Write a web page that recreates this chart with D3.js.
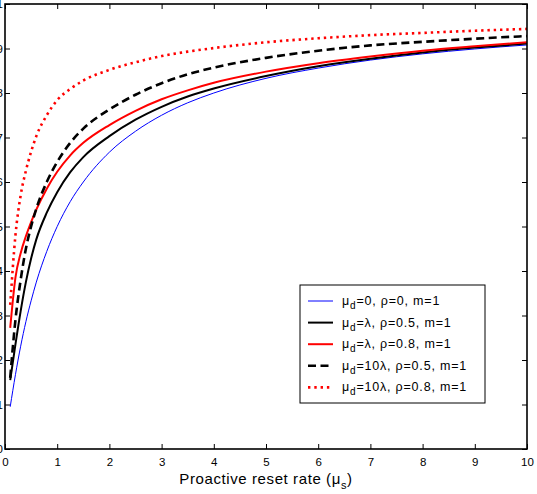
<!DOCTYPE html>
<html><head><meta charset="utf-8">
<script src="https://cdn.jsdelivr.net/npm/d3@7"></script>
<style>body{margin:0;background:#fff}svg{display:block}text{font-family:"Liberation Sans",Arial,sans-serif}</style>
</head><body><svg id="c" width="537" height="494"></svg>
<script>
const xs = [0.1,0.2,0.3,0.4,0.5,0.6,0.8,1,1.25,1.5,2,2.5,3,3.5,4,5,6,7,8,9,10];
const blueVals   = [0.095,0.167,0.231,0.286,0.333,0.375,0.444,0.50,0.556,0.60,0.667,0.714,0.75,0.778,0.80,0.833,0.856,0.874,0.888,0.899,0.908];
const blackVals  = [0.155,0.235,0.31,0.375,0.428,0.471,0.531,0.577,0.622,0.656,0.703,0.740,0.769,0.792,0.810,0.838,0.860,0.877,0.891,0.902,0.911];
const redVals    = [0.272,0.385,0.44,0.478,0.51,0.538,0.585,0.623,0.660,0.688,0.728,0.760,0.786,0.806,0.823,0.848,0.867,0.882,0.895,0.905,0.914];
const dashVals   = [0.16,0.29,0.38,0.45,0.50,0.54,0.60,0.645,0.688,0.72,0.763,0.796,0.822,0.842,0.857,0.879,0.895,0.907,0.915,0.922,0.928];
const dotVals    = [0.324,0.48,0.57,0.625,0.668,0.703,0.75,0.784,0.809,0.828,0.852,0.869,0.883,0.893,0.901,0.914,0.923,0.930,0.935,0.940,0.944];
const xTicks = [0,1,2,3,4,5,6,7,8,9,10];
const yTicks = [0,0.1,0.2,0.3,0.4,0.5,0.6,0.7,0.8,0.9,1];
const yTickLabels = ["0","0.1","0.2","0.3","0.4","0.5","0.6","0.7","0.8","0.9","1"];
const seriesNames = ["=0, ρ=0, m=1","=λ, ρ=0.5, m=1","=λ, ρ=0.8, m=1","=10λ, ρ=0.5, m=1","=10λ, ρ=0.8, m=1"];

const series = [
  {vals: blueVals,  color:"#0000ff", w:1,   dash:null, name:seriesNames[0]},
  {vals: blackVals, color:"#000000", w:2,   dash:null, name:seriesNames[1]},
  {vals: redVals,   color:"#ff0000", w:2,   dash:null, name:seriesNames[2]},
  {vals: dashVals,  color:"#000000", w:2.6, dash:"8,4.5", name:seriesNames[3]},
  {vals: dotVals,   color:"#ff0000", w:2.6, dash:"2.4,3.9", name:seriesNames[4]}
];

const svg = d3.select("#c");
const L = 5, T = 4, W = 522, H = 445;
const x = d3.scaleLinear().domain([0,10]).range([L, L+W]);
const y = d3.scaleLinear().domain([0,1]).range([T+H, T]);

const line = d3.line().x(d=>x(d[0])).y(d=>y(d[1])).curve(d3.curveMonotoneX);
series.forEach(s=>{
  svg.append("path").datum(xs.map((v,i)=>[v,s.vals[i]]))
    .attr("d", line).attr("fill","none").attr("stroke", s.color)
    .attr("stroke-width", s.w).attr("stroke-dasharray", s.dash);
});

const tk = 5;
const gBottom = svg.append("g").attr("transform",`translate(0,${T+H})`)
  .call(d3.axisBottom(x).tickValues(xTicks).tickSize(-tk).tickPadding(9).tickFormat(d3.format("d")));
const gTop = svg.append("g").attr("transform",`translate(0,${T})`)
  .call(d3.axisTop(x).tickValues(xTicks).tickSize(-tk).tickFormat(""));
const gLeft = svg.append("g").attr("transform",`translate(${L},0)`)
  .call(d3.axisLeft(y).tickValues(yTicks).tickSize(-tk).tickPadding(2).tickFormat((d,i)=>yTickLabels[i]));
const gRight = svg.append("g").attr("transform",`translate(${L+W},0)`)
  .call(d3.axisRight(y).tickValues(yTicks).tickSize(-tk).tickFormat(""));
[gBottom,gTop,gLeft,gRight].forEach(g=>{
  g.select(".domain").remove();
  g.selectAll(".tick line").attr("stroke","#000").attr("stroke-width",1);
  g.selectAll("text").attr("font-size",11.5).attr("fill","#000").style("font-family","Liberation Sans, Arial, sans-serif");
});
svg.append("rect").attr("x",L).attr("y",T).attr("width",W).attr("height",H)
  .attr("fill","none").attr("stroke","#000").attr("stroke-width",1.6);

const xl = svg.append("text").attr("x", x(5)).attr("y", 484).attr("text-anchor","middle")
  .attr("font-size",15).attr("letter-spacing",0.6).attr("fill","#000");
xl.append("tspan").text("Proactive reset rate (μ");
xl.append("tspan").attr("dy",5).attr("font-size",11).text("s");
xl.append("tspan").attr("dy",-5).text(")");

const lg = svg.append("g");
lg.append("rect").attr("x",300).attr("y",285).attr("width",185).attr("height",118)
  .attr("fill","#fff").attr("stroke","#000").attr("stroke-width",1);
series.forEach((s,i)=>{
  const yy = 301 + i*21.6;
  lg.append("line").attr("x1",308).attr("x2",333).attr("y1",yy).attr("y2",yy)
    .attr("stroke",s.color).attr("stroke-width",s.w).attr("stroke-dasharray",s.dash);
  const t = lg.append("text").attr("x",342).attr("y",yy+4).attr("font-size",12.5)
    .attr("letter-spacing",0.8).attr("fill","#000");
  t.append("tspan").text("μ");
  t.append("tspan").attr("dy",4).attr("font-size",10).text("d");
  t.append("tspan").attr("dy",-4).text(s.name);
});
</script></body></html>
